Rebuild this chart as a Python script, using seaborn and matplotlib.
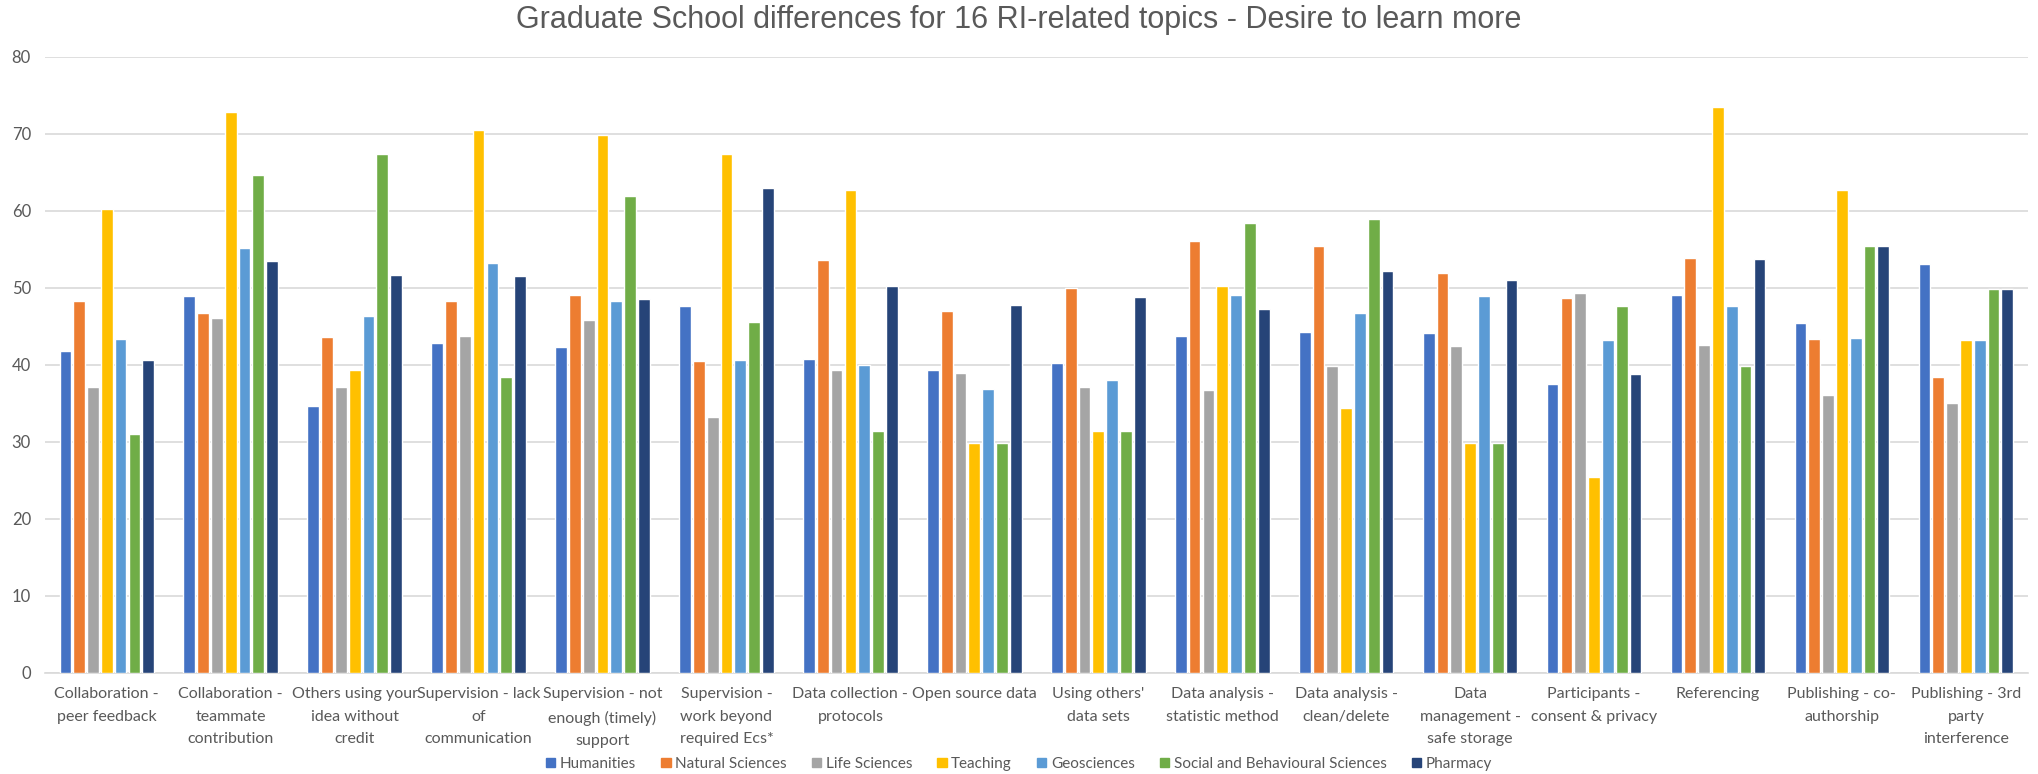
import matplotlib
matplotlib.use("Agg")
import matplotlib.pyplot as plt
import pandas as pd
import seaborn as sns

# ------------------------------------------------------------
# Data
# ------------------------------------------------------------
topics = [
    "Collaboration -\npeer feedback",
    "Collaboration -\nteammate\ncontribution",
    "Others using your\nidea without\ncredit",
    "Supervision - lack\nof\ncommunication",
    "Supervision - not\nenough (timely)\nsupport",
    "Supervision -\nwork beyond\nrequired Ecs*",
    "Data collection -\nprotocols",
    "Open source data",
    "Using others'\ndata sets",
    "Data analysis -\nstatistic method",
    "Data analysis -\nclean/delete",
    "Data\nmanagement -\nsafe storage",
    "Participants -\nconsent & privacy",
    "Referencing",
    "Publishing - co-\nauthorship",
    "Publishing - 3rd\nparty\ninterference",
]

schools = ["Humanities", "Natural Sciences", "Life Sciences", "Teaching",
           "Geosciences", "Social and Behavioural Sciences", "Pharmacy"]

humanities = [41.8, 48.9, 34.7, 42.8, 42.3, 47.6, 40.8, 39.3, 40.2, 43.7, 44.3, 44.2, 37.5, 49.1, 45.5, 53.1]
natural = [48.3, 46.8, 43.6, 48.3, 49.1, 40.5, 53.6, 47.0, 50.0, 56.1, 55.4, 52.0, 48.7, 53.9, 43.4, 38.4]
life = [37.2, 46.1, 37.1, 43.8, 45.9, 33.3, 39.3, 38.9, 37.2, 36.8, 39.9, 42.5, 49.3, 42.6, 36.1, 35.0]
teaching = [60.2, 72.8, 39.4, 70.5, 69.9, 67.4, 62.7, 29.9, 31.4, 50.3, 34.4, 29.9, 25.4, 73.5, 62.7, 43.2]
geo = [43.4, 55.2, 46.4, 53.2, 48.3, 40.7, 40.0, 36.9, 38.1, 49.1, 46.7, 48.9, 43.2, 47.7, 43.5, 43.2]
social = [31.0, 64.6, 67.4, 38.4, 61.9, 45.6, 31.4, 29.9, 31.4, 58.4, 58.9, 29.9, 47.7, 39.9, 55.4, 49.9]
pharmacy = [40.6, 53.5, 51.7, 51.5, 48.5, 63.0, 50.3, 47.8, 48.8, 47.3, 52.2, 51.0, 38.8, 53.7, 55.4, 49.9]

colors = ["#4472C4", "#ED7D31", "#A5A5A5", "#FFC000", "#5B9BD5", "#70AD47", "#264478"]

series = [humanities, natural, life, teaching, geo, social, pharmacy]
rows = []
for school, vals in zip(schools, series):
    for topic, v in zip(topics, vals):
        rows.append({"Topic": topic, "School": school, "Value": v})
df = pd.DataFrame(rows)

# ------------------------------------------------------------
# Plot
# ------------------------------------------------------------
sns.set_style("white")
plt.rcParams["font.family"] = ["Lato", "DejaVu Sans"]
text_grey = "#595959"

fig = plt.figure(figsize=(20.38, 7.74), dpi=100)
ax = fig.add_axes([0.022, 0.1305, 0.973, 0.796])

sns.barplot(data=df, x="Topic", y="Value", hue="School", order=topics,
            hue_order=schools, palette=colors, saturation=1, width=0.78, gap=0.15,
            errorbar=None, ax=ax, legend=False, zorder=3)

ax.set_ylim(0, 80)
ax.set_yticks(range(0, 81, 10))
ax.set_xlim(-0.5, len(topics) - 0.5)
ax.yaxis.grid(True, color="#D9D9D9", linewidth=1.2, zorder=0)
ax.set_axisbelow(True)
for side in ["top", "right", "left"]:
    ax.spines[side].set_visible(False)
ax.spines["bottom"].set_color("#D9D9D9")
ax.spines["bottom"].set_linewidth(1.2)

ax.set_xlabel("")
ax.set_ylabel("")
ax.tick_params(axis="both", length=0, colors=text_grey)
ax.tick_params(axis="x", labelsize=11.5, pad=10)
ax.tick_params(axis="y", labelsize=12, pad=10)
for lbl in ax.get_xticklabels():
    lbl.set_linespacing(1.8)

fig.text(0.5, 1 - 20 / 774, "Graduate School differences for 16 RI-related topics - Desire to learn more",
         ha="center", va="center", fontsize=22, color=text_grey,
         family=["Liberation Sans", "DejaVu Sans"])

handles = [plt.Rectangle((0, 0), 1, 1, color=c) for c in colors]
fig.legend(handles, schools, loc="center", bbox_to_anchor=(0.5, 1 - 764 / 774),
           ncol=7, frameon=False, fontsize=11, handlelength=0.6, handleheight=0.6,
           handletextpad=0.3, columnspacing=1.65, labelcolor=text_grey)

fig.savefig("out.png", dpi=100)
